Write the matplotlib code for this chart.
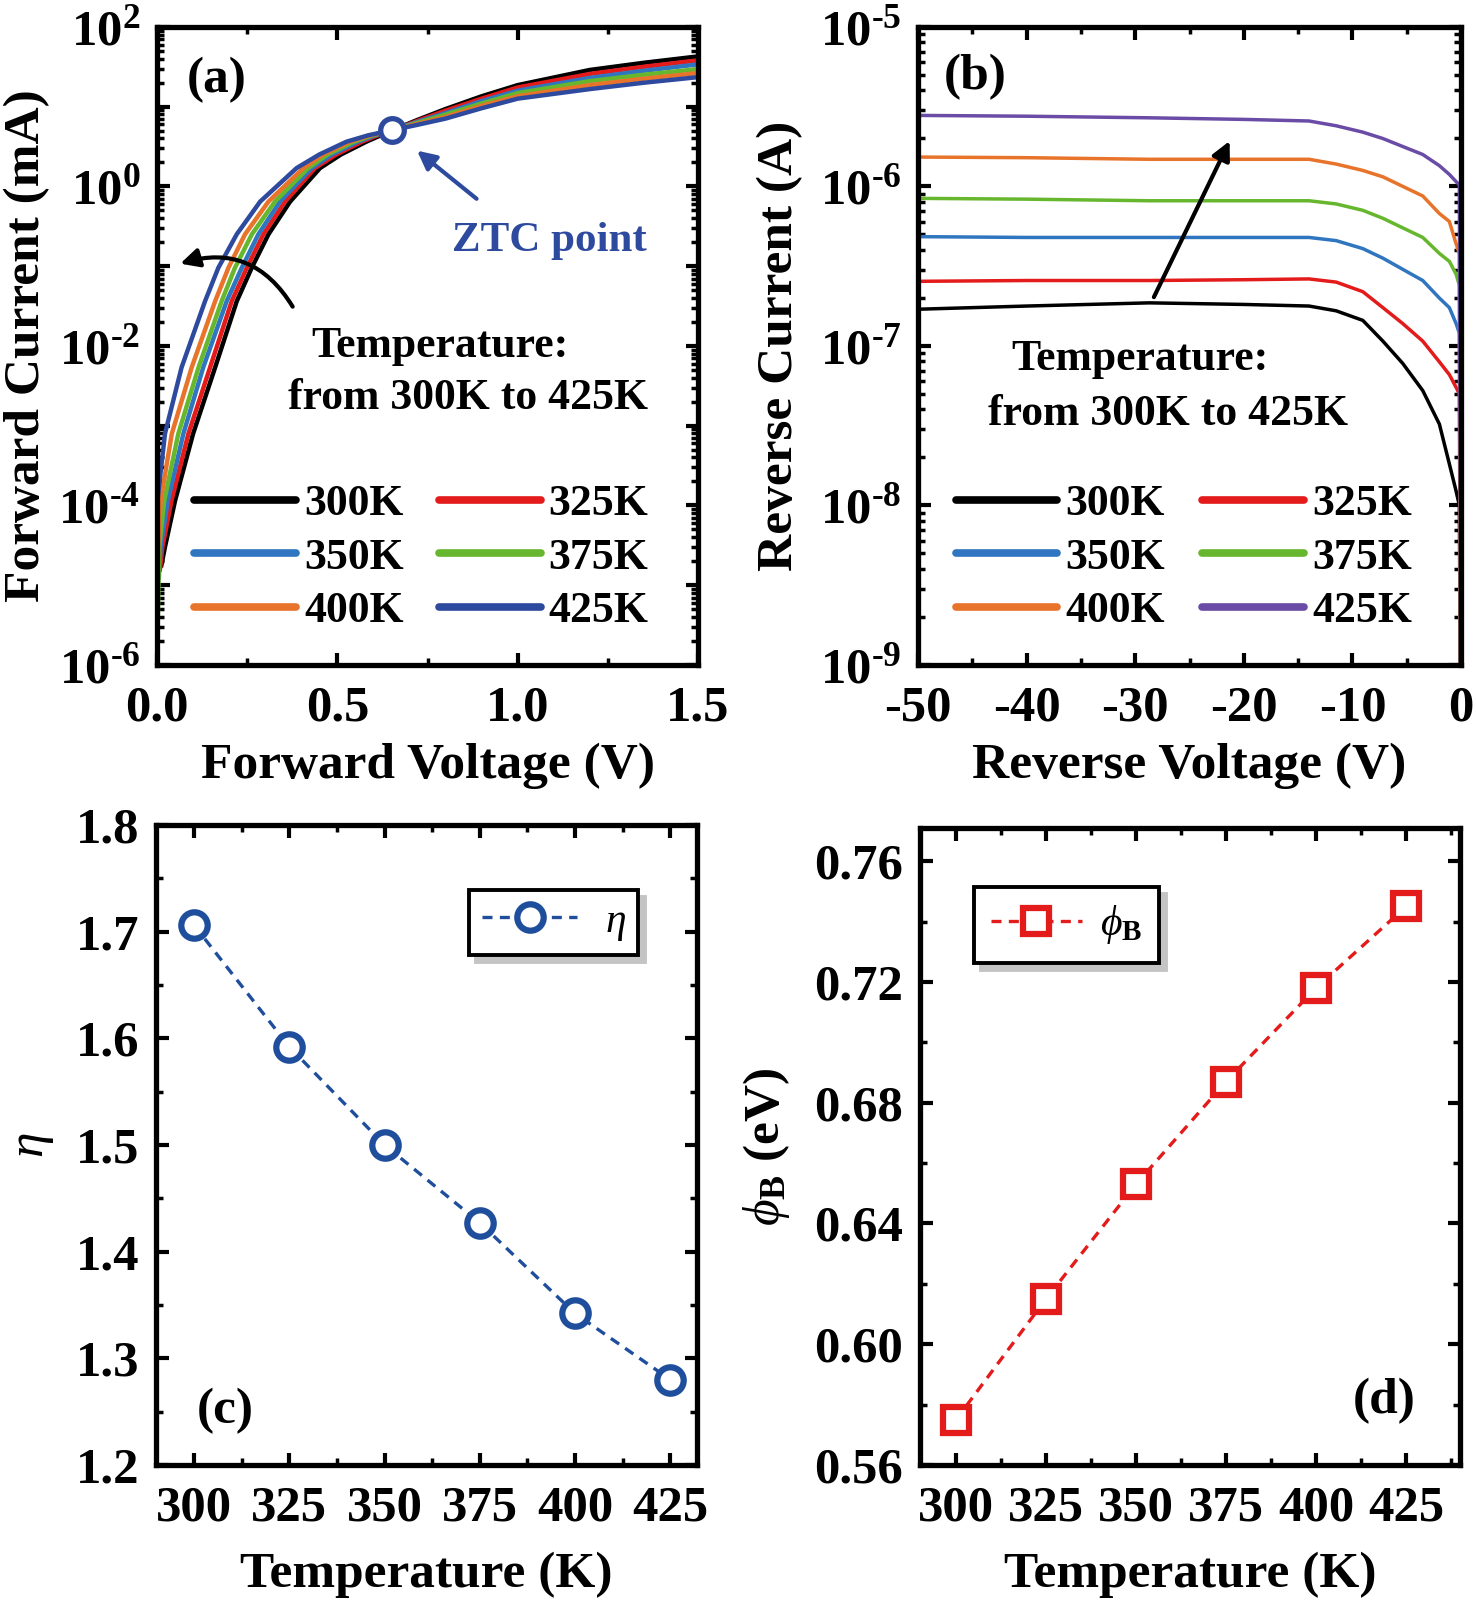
import numpy as np
import matplotlib
matplotlib.use('Agg')
import matplotlib.pyplot as plt
from matplotlib.ticker import MultipleLocator, FixedLocator, FixedFormatter, NullFormatter, FormatStrFormatter

plt.rcParams['font.family'] = ['Liberation Serif', 'DejaVu Serif']
plt.rcParams['font.weight'] = 'bold'
plt.rcParams['axes.labelweight'] = 'bold'
plt.rcParams['mathtext.fontset'] = 'custom'
plt.rcParams['mathtext.rm'] = 'Liberation Serif:bold'
plt.rcParams['mathtext.bf'] = 'Liberation Serif:bold'
plt.rcParams['mathtext.it'] = 'Liberation Serif:style=italic:weight=normal'
plt.rcParams['axes.unicode_minus'] = False

temps = ['300K', '325K', '350K', '375K', '400K', '425K']
colors_a = ['#000000', '#e31b1b', '#2f75c0', '#66b72e', '#e8732a', '#2e4a9e']
colors_b = ['#000000', '#e31b1b', '#2f75c0', '#66b72e', '#e8732a', '#6a4ca6']

# (a) forward I-V, log10 of current in mA
# low part: voltage read at fixed current levels, first point is where each trace starts
fwd_start_logi = [-4.75, -4.80, -4.90, -5.45, -5.00, -4.70]
fwd_start_v = [0.012, 0.008, 0.005, 0.002, 0.001, 0.0005]
fwd_levels = [-4.52, -3.94, -3.10, -2.27, -1.44, -1.02, -0.60, -0.19, 0.23, 0.40, 0.56, 0.64, 0.708]
fwd_v_300 = [0.022, 0.050, 0.100, 0.161, 0.221, 0.2625, 0.309, 0.369, 0.452, 0.510, 0.580, 0.620, 0.655]
fwd_v_325 = [0.015, 0.040, 0.087, 0.147, 0.207, 0.249, 0.295, 0.355, 0.438, 0.497, 0.568, 0.612, 0.655]
fwd_v_350 = [0.010, 0.030, 0.073, 0.128, 0.193, 0.235, 0.281, 0.341, 0.429, 0.485, 0.557, 0.605, 0.655]
fwd_v_375 = [0.006, 0.020, 0.059, 0.115, 0.179, 0.216, 0.263, 0.327, 0.419, 0.473, 0.546, 0.598, 0.655]
fwd_v_400 = [0.003, 0.010, 0.041, 0.096, 0.161, 0.198, 0.244, 0.309, 0.406, 0.461, 0.535, 0.592, 0.655]
fwd_v_425 = [0.0008, 0.001, 0.022, 0.068, 0.133, 0.170, 0.221, 0.286, 0.387, 0.450, 0.525, 0.585, 0.655]
# high part: current read at fixed voltages
fwd_hi_v = [0.72, 0.8, 0.9, 1.0, 1.2, 1.35, 1.5]
fwd_hi_300 = [0.830, 0.97, 1.13, 1.27, 1.46, 1.55, 1.63]
fwd_hi_325 = [0.818, 0.95, 1.10, 1.24, 1.41, 1.50, 1.58]
fwd_hi_350 = [0.806, 0.92, 1.07, 1.20, 1.36, 1.45, 1.53]
fwd_hi_375 = [0.794, 0.90, 1.04, 1.17, 1.32, 1.40, 1.47]
fwd_hi_400 = [0.782, 0.87, 1.01, 1.13, 1.27, 1.35, 1.42]
fwd_hi_425 = [0.770, 0.85, 0.98, 1.10, 1.22, 1.30, 1.37]
ztc_v, ztc_i = 0.652, 5.1

# (b) reverse I-V, log10 of current in A
rev_v = [-50, -40, -28.7, -20, -14, -11.5, -9.05, -7.2, -5.37, -3.53, -2.0, -1.08, -0.46, -0.16, 0.0]
rev_300 = [-6.77, -6.75, -6.73, -6.74, -6.75, -6.78, -6.84, -6.97, -7.11, -7.28, -7.49, -7.74, -7.91, -8.00, -10]
rev_325 = [-6.595, -6.59, -6.59, -6.585, -6.58, -6.60, -6.66, -6.76, -6.86, -6.97, -7.10, -7.18, -7.26, -7.30, -10]
rev_350 = [-6.315, -6.32, -6.32, -6.32, -6.32, -6.34, -6.39, -6.45, -6.52, -6.59, -6.70, -6.76, -6.86, -6.92, -10]
rev_375 = [-6.075, -6.08, -6.09, -6.09, -6.09, -6.11, -6.15, -6.20, -6.26, -6.32, -6.42, -6.47, -6.55, -6.62, -10]
rev_400 = [-5.816, -5.82, -5.83, -5.83, -5.83, -5.86, -5.90, -5.94, -6.00, -6.06, -6.17, -6.22, -6.36, -6.42, -10]
rev_425 = [-5.555, -5.56, -5.57, -5.58, -5.59, -5.62, -5.66, -5.70, -5.75, -5.80, -5.87, -5.925, -5.97, -5.99, -10]

# (c), (d)
T = [300, 325, 350, 375, 400, 425]
eta = [1.706, 1.592, 1.500, 1.427, 1.342, 1.280]
phi_b = [0.575, 0.615, 0.653, 0.687, 0.718, 0.745]

fwd_lo = [fwd_v_300, fwd_v_325, fwd_v_350, fwd_v_375, fwd_v_400, fwd_v_425]
fwd_hi = [fwd_hi_300, fwd_hi_325, fwd_hi_350, fwd_hi_375, fwd_hi_400, fwd_hi_425]
rev = [rev_300, rev_325, rev_350, rev_375, rev_400, rev_425]

fig = plt.figure(figsize=(14.76, 16), dpi=100)
ax1 = fig.add_axes([0.1064, 0.5844, 0.3665, 0.3988])
ax2 = fig.add_axes([0.6220, 0.5844, 0.3679, 0.3988])
ax3 = fig.add_axes([0.1057, 0.0844, 0.3665, 0.4000])
ax4 = fig.add_axes([0.6233, 0.0844, 0.3659, 0.3981])

TICK = 36.5
LAB = 37
PANEL = 37


def style(ax):
    for s in ax.spines.values():
        s.set_linewidth(3.8)
    ax.tick_params(which='both', direction='in', top=True, right=True, labelsize=TICK)
    ax.tick_params(which='major', length=9, width=3)
    ax.tick_params(which='minor', length=5, width=2.5)
    ax.tick_params(axis='x', pad=15)
    ax.tick_params(axis='y', pad=12)


def log_ticks(ax, lo, hi, label_every):
    dec = list(range(lo, hi + 1))
    ax.yaxis.set_major_locator(FixedLocator([10.0 ** d for d in dec]))
    labs = []
    for d in dec:
        if (d - lo) % label_every:
            labs.append('')
        else:
            labs.append('$10^{%s}$' % str(d).replace('-', '\u2010'))
    ax.yaxis.set_major_formatter(FixedFormatter(labs))
    minors = [m * 10.0 ** d for d in range(lo, hi) for m in range(2, 10)]
    ax.yaxis.set_minor_locator(FixedLocator(minors))
    ax.yaxis.set_minor_formatter(NullFormatter())


# ---- (a)
for k in range(6):
    v = [fwd_start_v[k]] + fwd_lo[k] + fwd_hi_v
    li = [fwd_start_logi[k]] + fwd_levels + fwd_hi[k]
    ax1.plot(v, np.power(10.0, li), color=colors_a[k], lw=3.2, label=temps[k],
             solid_joinstyle='round')
ax1.plot([ztc_v], [ztc_i], 'o', ms=17, mfc='white', mec='#2e4a9e', mew=3.8, zorder=5)
ax1.set_yscale('log')
ax1.set_xlim(0, 1.5)
ax1.set_ylim(1e-6, 1e2)
style(ax1)
log_ticks(ax1, -6, 2, 2)
ax1.xaxis.set_major_locator(FixedLocator([0.0, 0.5, 1.0, 1.5]))
ax1.xaxis.set_major_formatter(FixedFormatter(['0.0', '0.5', '1.0', '1.5']))
ax1.xaxis.set_minor_locator(MultipleLocator(0.25))
ax1.set_xlabel('Forward Voltage (V)', fontsize=LAB, labelpad=8)
ax1.set_ylabel('Forward Current (mA)', fontsize=LAB, labelpad=6)
ax1.text(0.11, 0.917, '(a)', transform=ax1.transAxes, fontsize=PANEL, ha='center', va='center')
ax1.text(0.726, 0.664, 'ZTC point', transform=ax1.transAxes, fontsize=31, ha='center', va='center', color='#2e4a9e')
ax1.text(0.523, 0.50, 'Temperature:', transform=ax1.transAxes, fontsize=31.5, ha='center', va='center')
ax1.text(0.574, 0.419, 'from 300K to 425K', transform=ax1.transAxes, fontsize=31.5, ha='center', va='center')
ax1.annotate('', xy=(0.715, 10 ** 0.47), xytext=(0.892, 10 ** -0.177),
             arrowprops=dict(arrowstyle='-|>', color='#2e4a9e', lw=3, mutation_scale=28))
ax1.annotate('', xy=(0.057, 0.105), xytext=(0.38, 0.029),
             arrowprops=dict(arrowstyle='-|>', color='black', lw=3, mutation_scale=28,
                             connectionstyle='arc3,rad=0.4'))

# ---- (b)
for k in range(6):
    ax2.plot(rev_v, np.power(10.0, rev[k]), color=colors_b[k], lw=2.5, label=temps[k],
             solid_joinstyle='round')
ax2.set_yscale('log')
ax2.set_xlim(-50, 0)
ax2.set_ylim(1e-9, 1e-5)
style(ax2)
log_ticks(ax2, -9, -5, 1)
ax2.xaxis.set_major_locator(FixedLocator([-50, -40, -30, -20, -10, 0]))
ax2.xaxis.set_major_formatter(FixedFormatter(['-50', '-40', '-30', '-20', '-10', '0']))
ax2.xaxis.set_minor_locator(MultipleLocator(5))
ax2.set_xlabel('Reverse Voltage (V)', fontsize=LAB, labelpad=8)
ax2.set_ylabel('Reverse Current (A)', fontsize=LAB, labelpad=12)
ax2.text(0.106, 0.922, '(b)', transform=ax2.transAxes, fontsize=PANEL, ha='center', va='center')
ax2.text(0.408, 0.479, 'Temperature:', transform=ax2.transAxes, fontsize=31.5, ha='center', va='center')
ax2.text(0.461, 0.393, 'from 300K to 425K', transform=ax2.transAxes, fontsize=31.5, ha='center', va='center')
ax2.annotate('', xy=(-21.2, 10 ** -5.70), xytext=(-28.4, 10 ** -6.71),
             arrowprops=dict(arrowstyle='-|>', color='black', lw=3, mutation_scale=28))

order = [0, 2, 4, 1, 3, 5]
for ax, xa, cs in ((ax1, 0.069, 0.8), (ax2, 0.069, 0.85)):
    h, l = ax.get_legend_handles_labels()
    leg = ax.legend([h[i] for i in order], [l[i] for i in order], ncol=2, loc='lower left',
                    bbox_to_anchor=(xa, 0.053), frameon=False, fontsize=31.5, borderaxespad=0,
                    borderpad=0, handlelength=2.33, handletextpad=0.18, columnspacing=cs,
                    labelspacing=0.31)
    for hl in leg.legend_handles:
        hl.set_linewidth(5.5)
        hl.set_solid_capstyle('round')

# ---- (c)
ax3.plot(T, eta, color='#1f4e9c', ls=(0, (3, 2.2)), lw=2.4, marker='o', ms=19,
         mfc='white', mec='#1f4e9c', mew=4.5, label=r'$\eta$')
ax3.set_xlim(290, 432)
ax3.set_ylim(1.2, 1.8)
style(ax3)
ax3.set_xticks(T)
ax3.xaxis.set_minor_locator(MultipleLocator(12.5))
ax3.yaxis.set_major_locator(MultipleLocator(0.1))
ax3.yaxis.set_minor_locator(MultipleLocator(0.05))
ax3.yaxis.set_major_formatter(FormatStrFormatter('%.1f'))
ax3.set_xlabel('Temperature (K)', fontsize=LAB, labelpad=14)
ax3.set_ylabel(r'$\eta$', fontsize=LAB, labelpad=14)
ax3.text(0.128, 0.084, '(c)', transform=ax3.transAxes, fontsize=PANEL, ha='center', va='center')
leg3 = ax3.legend(loc='upper right', bbox_to_anchor=(0.891, 0.898), fontsize=30, borderaxespad=0,
                  fancybox=False, edgecolor='black', framealpha=1, handlelength=2.3,
                  handletextpad=0.65, borderpad=0.3,
                  shadow={'ox': 5, 'oy': -5, 'color': '#c4c4c4', 'alpha': 1})
leg3.get_frame().set_linewidth(2.8)

# ---- (d)
ax4.plot(T, phi_b, color='#e31b1b', ls=(0, (3, 2.2)), lw=2.4, marker='s', ms=19,
         mfc='white', mec='#e31b1b', mew=4.5, label=r'$\phi_{\mathbf{B}}$')
ax4.set_xlim(290, 440)
ax4.set_ylim(0.56, 0.771)
style(ax4)
ax4.set_xticks(T)
ax4.xaxis.set_minor_locator(MultipleLocator(12.5))
ax4.yaxis.set_major_locator(MultipleLocator(0.04))
ax4.yaxis.set_minor_locator(MultipleLocator(0.02))
ax4.yaxis.set_major_formatter(FormatStrFormatter('%.2f'))
ax4.set_xlabel('Temperature (K)', fontsize=LAB, labelpad=14)
ax4.set_ylabel(r'$\phi_{\mathbf{B}}$ (eV)', fontsize=LAB, labelpad=16)
ax4.text(0.86, 0.10, '(d)', transform=ax4.transAxes, fontsize=PANEL, ha='center', va='center')
leg4 = ax4.legend(loc='upper left', bbox_to_anchor=(0.100, 0.908), fontsize=30, borderaxespad=0,
                  fancybox=False, edgecolor='black', framealpha=1, handlelength=2.2,
                  handletextpad=0.42, borderpad=0.4,
                  shadow={'ox': 5, 'oy': -5, 'color': '#c4c4c4', 'alpha': 1})
leg4.get_frame().set_linewidth(2.8)

fig.savefig('out.png', dpi=100)
